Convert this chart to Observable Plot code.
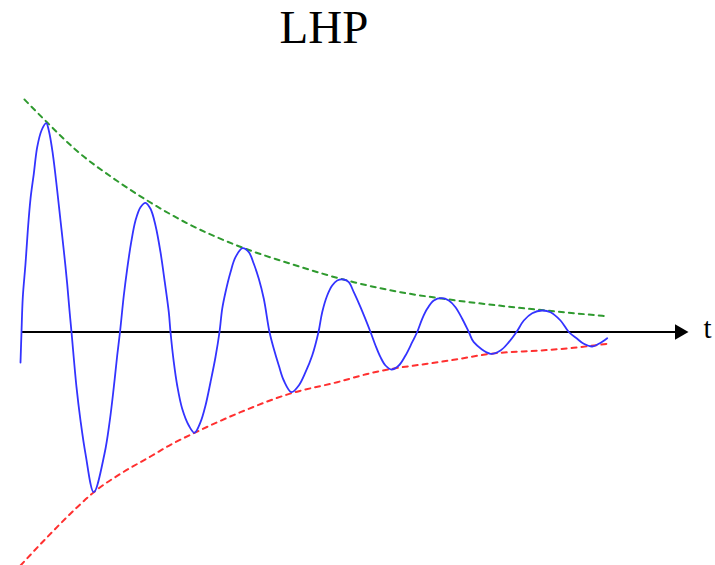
<!DOCTYPE html>
<html>
<head>
<meta charset="utf-8">
<script src="https://cdn.jsdelivr.net/npm/d3@7"></script>
<script src="https://cdn.jsdelivr.net/npm/@observablehq/plot@0.6"></script>
<style>
  html, body { margin: 0; padding: 0; background: #fff; }
</style>
</head>
<body>
<div id="chart"></div>
<script>
// Title and axis label
const titleText = "LHP";
const axisLabel = "t";

// Damped oscillation (blue): time, value
const waveT = [0.000,0.010,0.023,0.050,0.073,0.100,0.133,0.167,0.210,0.257,0.283,0.323,0.367,0.400,0.433,0.467,0.490,0.510,
  0.560,0.600,0.650,0.733,0.840,0.893,0.933,0.967,0.995,
  1.033,1.067,1.107,1.150,1.200,1.250,1.300,1.350,1.400,1.443,1.483,1.500,
  1.533,1.567,1.617,1.683,1.740,1.800,1.850,1.900,1.950,1.990,
  2.017,2.050,2.100,2.150,2.220,2.283,2.333,2.383,2.433,2.490,
  2.533,2.583,2.633,2.710,2.783,2.850,2.917,2.980,
  3.017,3.067,3.117,3.167,3.233,3.283,3.333,3.400,3.500,
  3.550,3.600,3.650,3.710,3.783,3.850,3.917,3.967,
  4.017,4.067,4.133,4.210,4.283,4.350,4.417,4.483,
  4.533,4.700,4.800,4.883,4.960,
  5.033,5.117,5.217,5.300,5.400,5.483,
  5.567,5.633,5.717,5.783,5.867];
const waveV = [-0.305,0.000,0.348,0.682,1.015,1.332,1.582,1.848,2.015,2.088,2.015,1.782,1.415,1.115,0.815,0.482,0.215,0.000,
  -0.552,-0.885,-1.218,-1.602,-1.218,-0.885,-0.552,-0.235,0.000,
  0.365,0.632,0.898,1.115,1.248,1.292,1.232,1.065,0.798,0.498,0.198,0.000,
  -0.302,-0.535,-0.768,-0.935,-1.008,-0.902,-0.735,-0.502,-0.250,0.000,
  0.232,0.398,0.598,0.748,0.838,0.798,0.682,0.532,0.332,0.000,
  -0.168,-0.335,-0.485,-0.602,-0.535,-0.402,-0.235,0.000,
  0.198,0.365,0.465,0.515,0.525,0.498,0.398,0.248,0.000,
  -0.135,-0.252,-0.335,-0.375,-0.335,-0.235,-0.102,0.000,
  0.132,0.232,0.315,0.338,0.315,0.248,0.132,0.000,
  -0.102,-0.218,-0.185,-0.102,0.000,
  0.115,0.188,0.215,0.198,0.115,0.000,
  -0.068,-0.118,-0.145,-0.118,-0.062];

// Upper envelope (green dashed)
const upperT = [0.040,0.257,0.560,0.960,1.267,1.677,2.183,2.700,3.333,3.800,4.233,4.867,5.533,5.867];
const upperV = [2.325,2.105,1.815,1.515,1.315,1.082,0.858,0.682,0.498,0.398,0.332,0.255,0.188,0.158];

// Lower envelope (red dashed)
const lowerT = [0.000,0.267,0.567,0.733,1.000,1.300,1.500,1.733,2.200,2.710,3.167,3.500,3.717,4.067,4.333,4.700,5.200,5.530,5.867];
const lowerV = [-2.335,-2.052,-1.752,-1.602,-1.418,-1.245,-1.128,-1.012,-0.802,-0.612,-0.502,-0.412,-0.368,-0.318,-0.278,-0.218,-0.185,-0.158,-0.118];

// Time axis extent (start of line, arrow head centre)
const axisStart = 0.017;
const axisEnd = 6.59;

const wave = waveT.map((t, i) => ({t, v: waveV[i]}));
const upper = upperT.map((t, i) => ({t, v: upperV[i]}));
const lower = lowerT.map((t, i) => ({t, v: lowerV[i]}));

const chart = Plot.plot({
  width: 715,
  height: 565,
  marginLeft: 20,
  marginRight: 0,
  marginTop: 0,
  marginBottom: 0,
  x: {domain: [0, 6.95], axis: null},
  y: {domain: [-2.335, 3.315], axis: null},
  style: {background: "#fff", overflow: "visible"},
  marks: [
    Plot.line(upper, {x: "t", y: "v", curve: "monotone-x", stroke: "#2f9a2f", strokeWidth: 2, strokeDasharray: "5,5"}),
    Plot.line(lower, {x: "t", y: "v", curve: "monotone-x", stroke: "#ff3030", strokeWidth: 2, strokeDasharray: "5,5"}),
    Plot.ruleY([0], {x1: axisStart, x2: axisEnd, stroke: "#000", strokeWidth: 2}),
    Plot.dot([axisEnd], {x: d => d, y: 0, symbol: "triangle", rotate: 90, r: 5.8, fill: "#000", stroke: "none"}),
    Plot.line(wave, {x: "t", y: "v", curve: "catmull-rom", stroke: "#3333ff", strokeWidth: 1.8}),
    Plot.text([axisLabel], {x: axisEnd, y: 0, text: d => d, dx: 24, dy: -3, textAnchor: "start", lineAnchor: "middle",
      fontFamily: "Liberation Serif", fontSize: 29, fill: "#000"}),
    Plot.text([titleText], {frameAnchor: "top", text: d => d, dx: -44, dy: 9, lineAnchor: "top",
      fontFamily: "Liberation Serif", fontSize: 47, fill: "#000"})
  ]
});
document.getElementById("chart").appendChild(chart);
</script>
</body>
</html>
